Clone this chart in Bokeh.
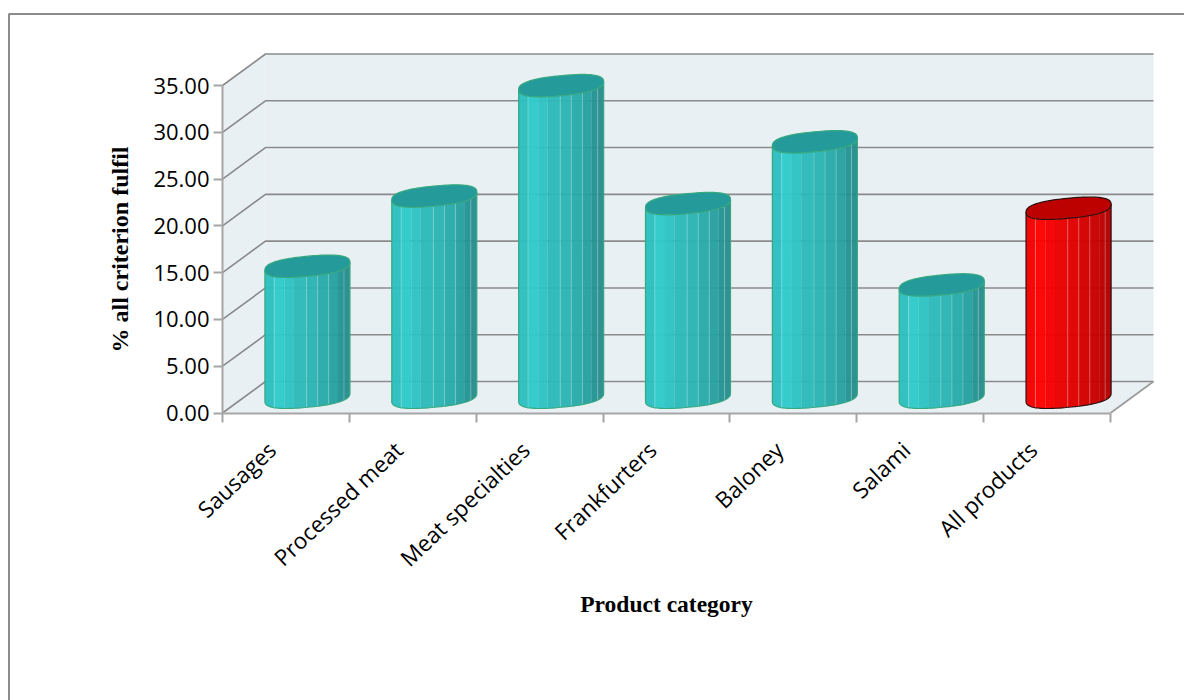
import numpy as np
from math import pi
from bokeh.embed import file_html
from bokeh.resources import INLINE
from bokeh.plotting import figure
from bokeh.models import (BoxAnnotation, ColumnDataSource, FixedTicker,
                          NumeralTickFormatter, Range1d)

# Chart data
categories = ["Sausages", "Processed meat", "Meat specialties", "Frankfurters",
              "Baloney", "Salami", "All products"]
values = [14.0, 21.5, 33.3, 20.7, 27.3, 12.0, 20.2]
y_ticks = [0, 5, 10, 15, 20, 25, 30, 35]

# Page geometry: where the front plane of the plot box sits on the canvas
W, H = 1184, 700
LEFT, RIGHT, TOP, BOTTOM = 222.0, 1110.0, 85.0, 412.5
n = len(categories)
ux = (RIGHT - LEFT) / n            # pixels per category
uy = (BOTTOM - TOP) / y_ticks[-1]  # pixels per percent

# Oblique depth of the box, in data units
DEPTH_X = 43.0 / ux
DEPTH_Y = 31.5 / uy

# Cylinder cross-section, in data units, and how square its rounding is
RX = 42.5 / ux
R_SKEW = 4.0 / uy
R_MINOR = 10.0 / uy
ROUNDING = 0.8

# Facets of the visible side: left edge of each one across the width, and shading
facet_edges = [0, .11, .23, .34, .49, .62, .75, .86, .93, 1]
teal_facets = ["#2dbfbf", "#30caca", "#2fc3c3", "#2dbaba", "#2bb4b4",
               "#29abab", "#27a1a1", "#259494", "#288d8d"]
red_facets = ["#f40000", "#ff0000", "#f60000", "#ea0000", "#e00000",
              "#d40000", "#c80000", "#bc0000", "#b40000"]
facet_lines = [1, 4, 5, 6, 8]

# Category labels are hung a little to the left of the category centres
LABEL_SHIFT = 0.11

p = figure(width=W, height=H, output_backend="svg", toolbar_location=None,
           x_range=Range1d(-LEFT / ux, (W - LEFT) / ux),
           y_range=Range1d((BOTTOM - H) / uy, BOTTOM / uy),
           min_border=0, outline_line_color=None,
           background_fill_color="white", border_fill_color="white")
p.grid.visible = False

# Outer chart border, open towards the window edges
p.add_layout(BoxAnnotation(left=8.5, top=H - 13.5, right=W + 20, bottom=-20,
                           left_units="screen", right_units="screen",
                           top_units="screen", bottom_units="screen",
                           fill_alpha=0, line_color="#8c8c8c", line_alpha=1, line_width=2,
                           level="underlay"))

# Walls and floor
WALL = "#e8f0f4"
p.patch([0, DEPTH_X, DEPTH_X, 0], [0, DEPTH_Y, y_ticks[-1] + DEPTH_Y, y_ticks[-1]],
        fill_color=WALL, line_color=None)
p.patch([DEPTH_X, n + DEPTH_X, n + DEPTH_X, DEPTH_X],
        [DEPTH_Y, DEPTH_Y, y_ticks[-1] + DEPTH_Y, y_ticks[-1] + DEPTH_Y],
        fill_color=WALL, line_color=None)
p.patch([0, n, n + DEPTH_X, DEPTH_X], [0, 0, DEPTH_Y, DEPTH_Y],
        fill_color=WALL, line_color=None)

# Gridlines run along the side wall and across the back wall
for v in y_ticks:
    p.line([0, DEPTH_X, n + DEPTH_X], [v, v + DEPTH_Y, v + DEPTH_Y],
           line_color="#8a8a8a", line_width=1.6)
p.line([n, n + DEPTH_X], [0, DEPTH_Y], line_color="#9a9a9a", line_width=1.6)


def rim(cx, cy, t):
    """Points of a cylinder's rounded rim at the angles t."""
    c = np.sign(np.cos(t)) * np.abs(np.cos(t)) ** ROUNDING
    s = np.sign(np.sin(t)) * np.abs(np.sin(t)) ** ROUNDING
    return cx + RX * c, cy + R_SKEW * c + R_MINOR * s


for i, val in enumerate(values):
    is_total = categories[i] == "All products"
    shades = red_facets if is_total else teal_facets
    edge = "#2a1010" if is_total else "#37a97f"
    cap = "#bd0000" if is_total else "#259a9a"

    cx = i + 0.5 + DEPTH_X / 2
    base = DEPTH_Y / 2
    top = base + val

    across = 2 * np.array(facet_edges) - 1
    angles = 2 * pi - np.arccos(np.sign(across) * np.abs(across) ** (1 / ROUNDING))
    xs, ys = [], []
    for a0, a1 in zip(angles[:-1], angles[1:]):
        t = np.linspace(a0, a1, 8)
        xb, yb = rim(cx, base, t)
        xt, yt = rim(cx, top, t[::-1])
        xs.append(np.concatenate([xb, xt]).tolist())
        ys.append(np.concatenate([yb, yt]).tolist())
    p.patches(xs="xs", ys="ys", fill_color="color", fill_alpha=0.97, line_color="color",
              line_alpha=0.3, line_width=0.5,
              source=ColumnDataSource(dict(xs=xs, ys=ys, color=shades)))

    # Pale seams between some of the facets
    for k in facet_lines:
        xb, yb = rim(cx, base, np.array([angles[k]]))
        xt, yt = rim(cx, top, np.array([angles[k]]))
        p.line([xb[0], xt[0]], [yb[0], yt[0]], line_color="white", line_alpha=0.22, line_width=1.2)

    # Side outline, then the cap
    t = np.linspace(pi, 2 * pi, 50)
    xb, yb = rim(cx, base, t)
    xo = np.concatenate([xb, [cx + RX, cx - RX, cx - RX]])
    yo = np.concatenate([yb, [top + R_SKEW, top - R_SKEW, base - R_SKEW]])
    p.line(xo, yo, line_color=edge, line_width=1.2)
    t = np.linspace(0, 2 * pi, 120)
    xc, yc = rim(cx, top, t)
    p.patch(xc, yc, fill_color=cap, line_color=edge, line_width=1.2)

# Axes, pinned to the front edge of the box
TICK_FONT = "Open Sans"
AXIS_GREY = "#a6a6a6"

yaxis = p.yaxis[0]
yaxis.fixed_location = 0
yaxis.bounds = (y_ticks[0], y_ticks[-1])
yaxis.ticker = FixedTicker(ticks=y_ticks)
yaxis.formatter = NumeralTickFormatter(format="0.00")
yaxis.major_label_text_font = TICK_FONT
yaxis.major_label_text_font_size = "22px"
yaxis.major_label_text_color = "black"
yaxis.major_label_standoff = 4
yaxis.major_tick_out = 9
yaxis.major_tick_in = 0
yaxis.minor_tick_line_color = None
yaxis.major_tick_line_color = AXIS_GREY
yaxis.major_tick_line_width = 2
yaxis.axis_line_color = AXIS_GREY
yaxis.axis_line_width = 2
yaxis.axis_label = "% all criterion fulfil"
yaxis.axis_label_text_font = "Liberation Serif"
yaxis.axis_label_text_font_style = "bold"
yaxis.axis_label_text_font_size = "24px"
yaxis.axis_label_text_color = "black"
yaxis.axis_label_standoff = 17

xaxis = p.xaxis[0]
xaxis.fixed_location = 0
xaxis.bounds = (0, n)
xaxis.ticker = FixedTicker(ticks=[i + 0.5 - LABEL_SHIFT for i in range(n)],
                           minor_ticks=list(range(n + 1)))
xaxis.major_label_overrides = {i + 0.5 - LABEL_SHIFT: c for i, c in enumerate(categories)}
xaxis.major_label_orientation = 0.76
xaxis.major_label_text_font = TICK_FONT
xaxis.major_label_text_font_size = "22.5px"
xaxis.major_label_text_color = "black"
xaxis.major_label_standoff = 24
xaxis.major_tick_line_color = None
xaxis.major_tick_out = 0
xaxis.major_tick_in = 0
xaxis.minor_tick_out = 9
xaxis.minor_tick_in = 0
xaxis.minor_tick_line_color = AXIS_GREY
xaxis.minor_tick_line_width = 2
xaxis.axis_line_color = AXIS_GREY
xaxis.axis_line_width = 2
xaxis.axis_label = "Product category"
xaxis.axis_label_text_font = "Liberation Serif"
xaxis.axis_label_text_font_style = "bold"
xaxis.axis_label_text_font_size = "23.5px"
xaxis.axis_label_text_color = "black"
xaxis.axis_label_standoff = 3

open("out.html", "w").write(file_html(p, INLINE))
